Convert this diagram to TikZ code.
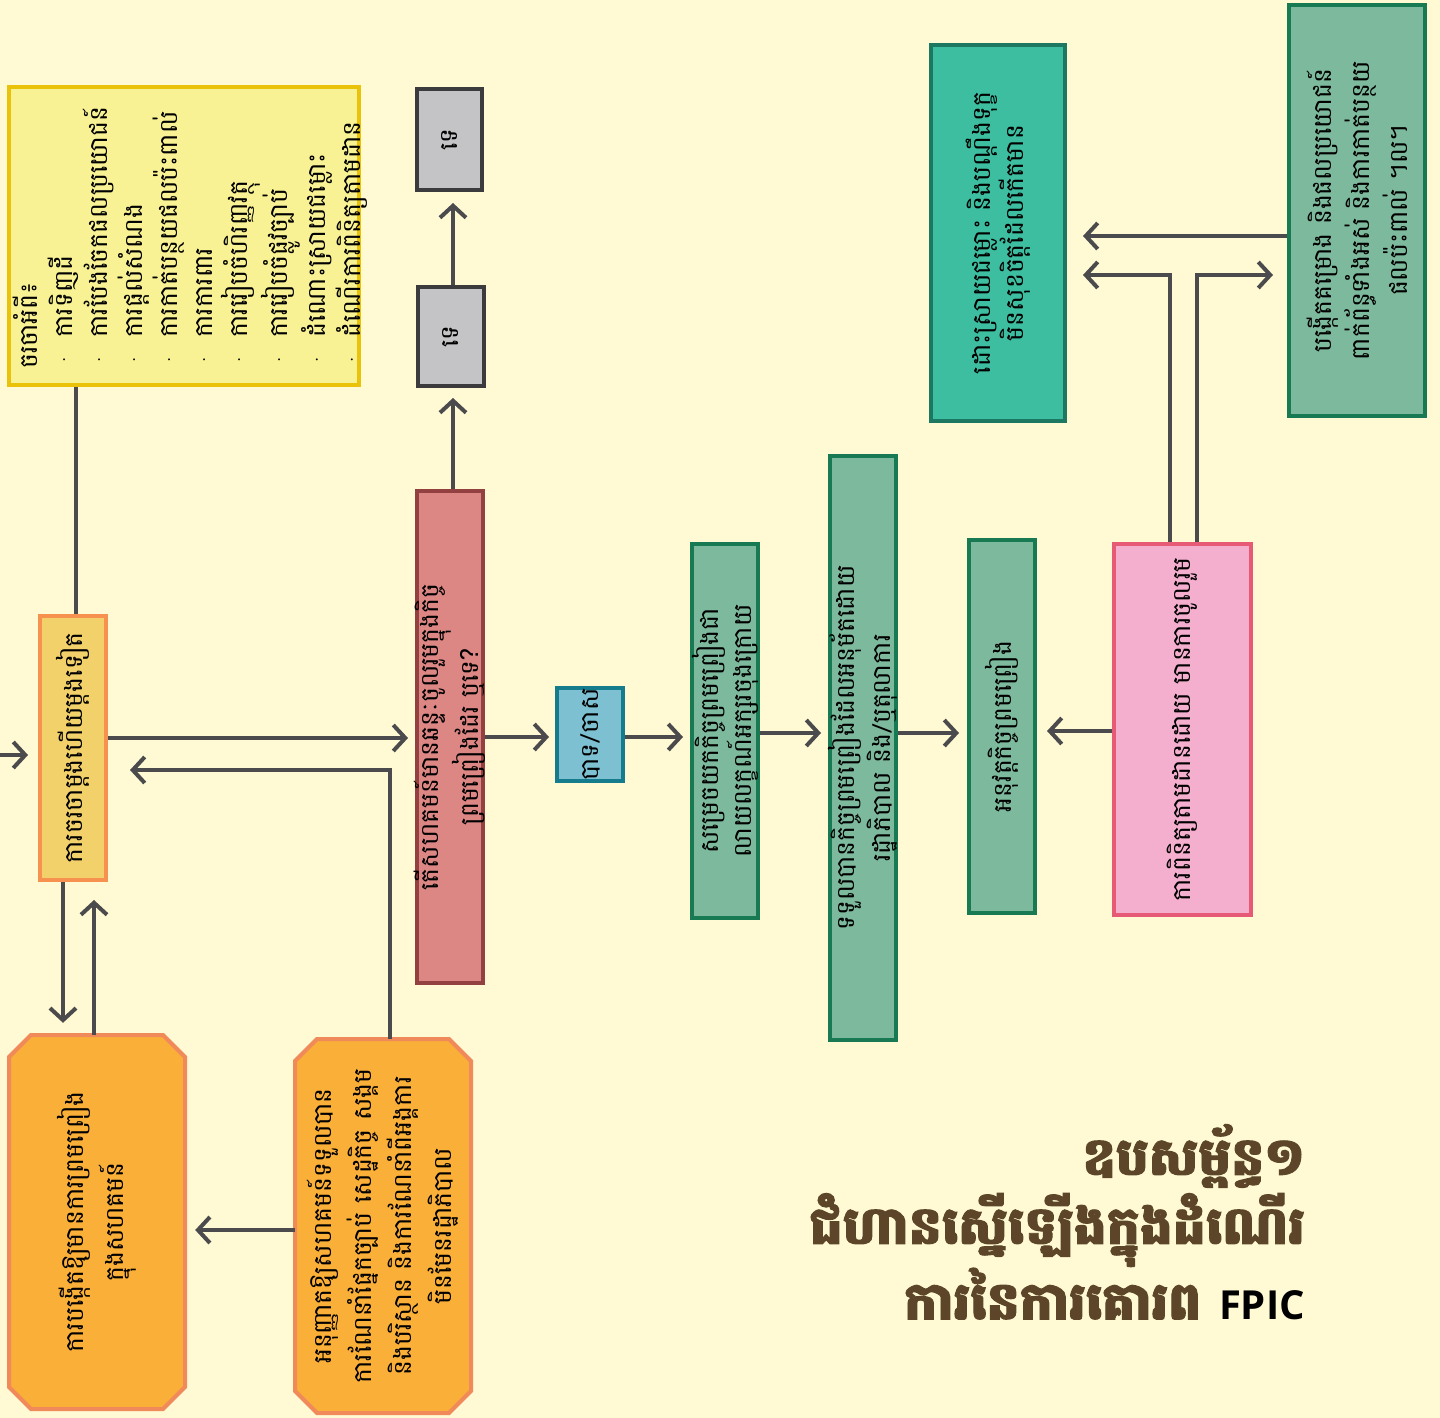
\documentclass[tikz,border=0pt]{standalone}
\usepackage{fontspec}
\usetikzlibrary{arrows.meta,calc}
\newfontfamily\khmer[Script=Khmer]{Battambang}
\newfontfamily\khmertitle[Script=Khmer,BoldFeatures={FakeBold=1.8}]{Battambang}
\newfontfamily\latinsans{Open Sans}
\definecolor{bg}{HTML}{FFFAD4}
\definecolor{arrowc}{HTML}{4B4B4D}
\definecolor{yelfill}{HTML}{F8F294}
\definecolor{yeldraw}{HTML}{EBC20A}
\definecolor{negfill}{HTML}{F2D16B}
\definecolor{negdraw}{HTML}{F6914F}
\definecolor{redfill}{HTML}{DD8785}
\definecolor{reddraw}{HTML}{934040}
\definecolor{grayfill}{HTML}{C4C4C6}
\definecolor{graydraw}{HTML}{3B3B3D}
\definecolor{bluefill}{HTML}{7CC0D2}
\definecolor{bluedraw}{HTML}{147C8C}
\definecolor{grfill}{HTML}{7DB99C}
\definecolor{grdraw}{HTML}{187A52}
\definecolor{tealfill}{HTML}{3DBEA0}
\definecolor{tealdraw}{HTML}{1C7860}
\definecolor{pinkfill}{HTML}{F4AFCF}
\definecolor{pinkdraw}{HTML}{E65A75}
\definecolor{octfill}{HTML}{F9AF38}
\definecolor{octdraw}{HTML}{F08A5A}
\definecolor{titlec}{HTML}{5C4528}
\newcommand{\ktsize}[1]{\khmer\fontsize{25}{#1}\selectfont}
\newcommand{\bul}{{\rmfamily\fontsize{24}{24}\selectfont ·}\hspace{14pt}}
\tikzset{
  box/.style={draw, line width=4pt, inner sep=0pt},
  anchorbox/.style={inner sep=0pt},
  kt/.style={rotate=90, align=center, inner sep=0pt, font=\ktsize{33}},
  ln/.style={draw=arrowc, line width=4pt},
  arr/.style={ln, -{Straight Barb[length=12pt,width=26pt,line width=4pt]}},
}
\begin{document}
\begin{tikzpicture}[x=1pt,y=-1pt]
\fill[bg] (0,0) rectangle (1440,1418);
\useasboundingbox (0,0) rectangle (1440,1418);

% boxes
\node[box, fill=yelfill, draw=yeldraw, minimum width=350, minimum height=298] (yel) at (184,236) {};
\node[box, fill=negfill, draw=negdraw, minimum width=66, minimum height=264] (neg) at (73,748) {};
\node[box, fill=redfill, draw=reddraw, minimum width=66, minimum height=492] (red) at (450,737) {};
\node[box, fill=grayfill, draw=graydraw, minimum width=66, minimum height=99] (gtwo) at (451,336.5) {};
\node[box, fill=grayfill, draw=graydraw, minimum width=65, minimum height=101] (gone) at (449.5,139.5) {};
\node[box, fill=bluefill, draw=bluedraw, minimum width=66, minimum height=93] (blue) at (590,734.5) {};
\node[box, fill=grfill, draw=grdraw, minimum width=66, minimum height=374] (grone) at (725,731) {};
\node[box, fill=grfill, draw=grdraw, minimum width=66, minimum height=584] (grtwo) at (863,748) {};
\node[box, fill=grfill, draw=grdraw, minimum width=66, minimum height=373] (grthree) at (1002,726.5) {};
\node[box, fill=pinkfill, draw=pinkdraw, minimum width=137, minimum height=371] (pink) at (1182.5,729.5) {};
\node[box, fill=tealfill, draw=tealdraw, minimum width=134, minimum height=376] (teal) at (998,233) {};
\node[box, fill=grfill, draw=grdraw, minimum width=136, minimum height=411] (grR) at (1357,210.5) {};

% octagons
\filldraw[fill=octfill, draw=octdraw, line width=4pt]
  (31,1035) -- (163,1035) -- (185,1057) -- (185,1387) -- (163,1409) -- (31,1409) -- (9,1387) -- (9,1057) -- cycle;
\node[anchorbox, minimum width=176, minimum height=374] (octone) at (97,1222) {};
\filldraw[fill=octfill, draw=octdraw, line width=4pt]
  (317,1039) -- (449,1039) -- (471,1061) -- (471,1391) -- (449,1413) -- (317,1413) -- (295,1391) -- (295,1061) -- cycle;
\node[anchorbox, minimum width=176, minimum height=374] (octtwo) at (383,1226) {};

% texts
\node[kt, align=left, anchor=west, font=\ktsize{35}] at (190,369) {ចរចាអំពី៖\\
\bul ការទិញដី\\
\bul ការបែងចែកផលប្រយោជន៍\\
\bul ការផ្តល់សំណង\\
\bul ការកាត់បន្ថយផលប៉ះពាល់\\
\bul ការការពារ\\
\bul ការរៀបចំហិរញ្ញវត្ថុ\\
\bul ការរៀបចំផ្លូវច្បាប់\\
\bul ដំណោះស្រាយជម្លោះ\\
\bul ដំណើរការពិនិត្យតាមដាន};
\node[kt] at (neg) {ការចរចាម្តងហើយម្តងទៀត};
\node[kt] at (red) {តើសហគមន៍មានឆន្ទៈចូលរួមក្នុងកិច្ច\\ព្រមព្រៀងដែរ ឬទេ?};
\node[kt] at (gtwo) {ទេ};
\node[kt] at (gone) {ទេ};
\node[kt] at (blue) {បាទ/ចាស};
\node[kt] at (grone) {សម្រេចយកកិច្ចព្រមព្រៀងជា\\លាយលក្ខណ៍អក្សរចុងក្រោយ};
\node[kt, font=\ktsize{36}] at (grtwo) {ទទួលបានកិច្ចព្រមព្រៀងដែលអនុម័តដោយ\\រដ្ឋាភិបាល និង/ឬតុលាការ};
\node[kt] at (grthree) {អនុវត្តកិច្ចព្រមព្រៀង};
\node[kt] at (pink) {ការពិនិត្យតាមដានដោយ មានការចូលរួម};
\node[kt] at (teal) {ដោះស្រាយជម្លោះ និងបណ្តឹងទុក្ខ\\មិនសុខចិត្តដែលកើតមាន};
\node[kt, font=\ktsize{38}] at (grR) {បង្កើតគម្រោង និងផលប្រយោជន៍\\ពាក់ព័ន្ធទាំងអស់ និងការកាត់បន្ថយ\\ផលប៉ះពាល់ ។ល។};
\node[kt, font=\ktsize{40}] at (octone) {ការបង្កើតឱ្យមានការព្រមព្រៀង\\ក្នុងសហគមន៍};
\node[kt, font=\ktsize{40}] at (octtwo) {អនុញ្ញាតឱ្យសហគមន៍ទទួលបាន\\ការណែនាំផ្នែកច្បាប់ សេដ្ឋកិច្ច សង្គម\\និងបរិស្ថាន និងការណែនាំពីអង្គការ\\មិនមែនរដ្ឋាភិបាល};

% title
\node[anchor=north east, align=right, inner sep=0pt, text=titlec,
      font=\khmertitle\bfseries\fontsize{52}{69}\selectfont] (title) at (1305,1124)
  {ឧបសម្ព័ន្ធ១\\ជំហានស្នើឡើងក្នុងដំណើរ\\ការនៃការគោរព {\latinsans\bfseries\color{black}\fontsize{40}{40}\selectfont FPIC}};

% connectors
\coordinate (inL) at (0,755);
\draw[arr, shorten >=10pt] (inL) -- (neg.west |- inL);
\draw[ln] (yel.south -| 76,0) -- (neg.north -| 76,0);
\draw[arr, shorten >=7pt] (neg.east |- 0,738) -- (red.west |- 0,738);
\draw[arr, shorten >=22pt] (octtwo.north -| 390,0) |- (neg.east |- 0,770);
\draw[arr, shorten >=12pt] (neg.south -| 63,0) -- (octone.north -| 63,0);
\draw[arr, shorten >=18pt] (octone.north -| 94,0) -- (neg.south -| 94,0);
\draw[arr, shorten >=10pt] (octtwo.west |- 0,1230) -- (octone.east |- 0,1230);
\draw[arr, shorten >=10pt] (red.north -| 453,0) -- (gtwo.south -| 453,0);
\draw[arr, shorten >=11pt] (gtwo.north -| 453,0) -- (gone.south -| 453,0);
\draw[arr, shorten >=6pt] (red.east |- 0,737) -- (blue.west |- 0,737);
\draw[arr, shorten >=7pt] (blue.east |- 0,737) -- (grone.west |- 0,737);
\draw[arr, shorten >=7pt] (grone.east |- 0,733) -- (grtwo.west |- 0,733);
\draw[arr, shorten >=8pt] (grtwo.east |- 0,733) -- (grthree.west |- 0,733);
\draw[arr, shorten >=10pt] (pink.west |- 0,731) -- (grthree.east |- 0,731);
\draw[arr, shorten >=16pt] (grR.west |- 0,236) -- (teal.east |- 0,236);
\draw[arr, shorten >=16pt] (pink.north -| 1170,0) |- (teal.east |- 0,275);
\draw[arr, shorten >=14pt] (pink.north -| 1197,0) |- (grR.west |- 0,275);
\end{tikzpicture}
\end{document}
